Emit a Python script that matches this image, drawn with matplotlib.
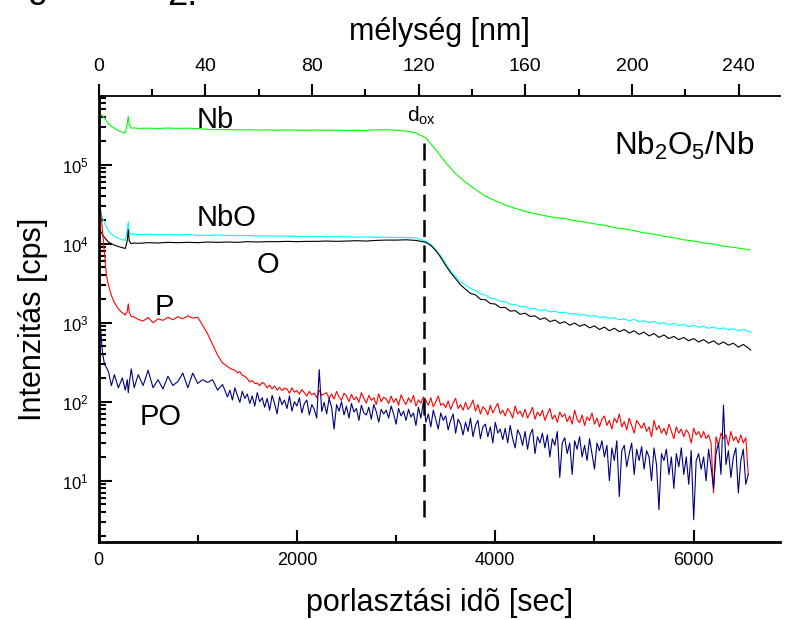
import numpy as np
import matplotlib
matplotlib.use("Agg")
import matplotlib.pyplot as plt
from matplotlib.ticker import FixedLocator

plt.rcParams['font.family'] = ['Liberation Sans', 'DejaVu Sans']
plt.rcParams['mathtext.fontset'] = 'custom'
plt.rcParams['mathtext.rm'] = 'Liberation Sans'
plt.rcParams['mathtext.it'] = 'Liberation Sans:italic'
plt.rcParams['mathtext.bf'] = 'Liberation Sans:bold'
plt.rcParams['mathtext.default'] = 'regular'

# sputtering time grids [s]
t_early = [0, 20, 40, 60, 80, 100, 130, 160, 200, 240, 270, 290, 300, 310, 330, 360, 400]
t_nb = np.array(t_early + list(range(500, 6501, 100)) + [6570])
t_ox = np.array(t_early + list(range(500, 3301, 100)) + list(range(3350, 6551, 50)) + [6575])
t_p = np.array(t_early + list(range(450, 1251, 50)) + list(range(1300, 6551, 25)))

# sputter rate [nm/s] and oxide/metal interface time [s]
sputter_rate = 240 / 6453
d_ox_time = 3283

# axis ticks
time_ticks = [0, 2000, 4000, 6000]
time_minor = [1000, 3000, 5000]
depth_ticks = [0, 40, 80, 120, 160, 200, 240]
depth_minor = [20, 60, 100, 140, 180, 220]

# intensities [cps]
nb = [4.4e5, 4.35e5, 4.15e5, 3.9e5, 3.6e5, 3.3e5, 3.05e5, 2.9e5, 2.7e5, 2.58e5, 2.52e5, 3.3e5, 4.1e5, 3.2e5, 2.9e5, 2.92e5, 2.88e5,
      2.90e5, 2.87e5, 2.91e5, 2.88e5, 2.90e5, 2.86e5, 2.80e5, 2.78e5, 2.79e5, 2.75e5,
      2.77e5, 2.74e5, 2.76e5, 2.73e5, 2.75e5, 2.74e5, 2.72e5, 2.75e5, 2.72e5, 2.74e5,
      2.71e5, 2.73e5, 2.71e5, 2.76e5, 2.77e5, 2.73e5, 2.66e5, 2.52e5, 2.18e5, 1.55e5,
      1.06e5, 7.7e4, 6.0e4, 4.85e4, 4.0e4, 3.5e4, 3.08e4, 2.8e4, 2.57e4, 2.4e4,
      2.26e4, 2.14e4, 2.08e4, 1.95e4, 1.88e4, 1.78e4, 1.71e4, 1.60e4, 1.54e4, 1.46e4,
      1.37e4, 1.32e4, 1.24e4, 1.19e4, 1.12e4, 1.08e4, 1.02e4, 9.9e3, 9.3e3, 9.0e3,
      8.6e3, 8.3e3]

nbo = [2.9e4, 2.5e4, 2.15e4, 1.85e4, 1.62e4, 1.46e4, 1.33e4, 1.24e4, 1.17e4, 1.12e4, 1.1e4, 1.45e4, 1.9e4, 1.38e4, 1.3e4, 1.33e4, 1.3e4,
       1.32e4, 1.30e4, 1.31e4, 1.29e4, 1.31e4, 1.28e4, 1.27e4, 1.29e4, 1.27e4, 1.26e4,
       1.27e4, 1.25e4, 1.26e4, 1.24e4, 1.25e4, 1.24e4, 1.23e4, 1.24e4, 1.22e4, 1.23e4,
       1.22e4, 1.21e4, 1.22e4, 1.20e4, 1.21e4, 1.20e4, 1.20e4, 1.18e4, 1.07e4,
       9.8e3, 8.4e3, 7.0e3, 5.6e3, 4.5e3, 3.85e3, 3.3e3, 3.0e3, 2.72e3, 2.55e3,
       2.32e3, 2.25e3, 2.05e3, 2.0e3, 1.86e3, 1.85e3, 1.71e3, 1.7e3, 1.6e3, 1.6e3,
       1.5e3, 1.51e3, 1.42e3, 1.46e3, 1.37e3, 1.4e3, 1.33e3, 1.36e3, 1.28e3, 1.31e3,
       1.24e3, 1.27e3, 1.2e3, 1.23e3, 1.16e3, 1.19e3, 1.13e3, 1.16e3, 1.09e3, 1.12e3,
       1.06e3, 1.1e3, 1.03e3, 1.06e3, 1.0e3, 1.04e3, 9.7e2, 1.0e3, 9.4e2, 9.8e2,
       9.2e2, 9.5e2, 8.9e2, 9.3e2, 8.7e2, 9.0e2, 8.5e2, 8.8e2, 8.3e2, 8.6e2,
       8.1e2, 8.4e2, 7.9e2, 8.2e2, 7.8e2, 7.5e2]

o = [1.64e4, 1.45e4, 1.3e4, 1.2e4, 1.12e4, 1.05e4, 1.0e4, 9.6e3, 9.2e3, 8.9e3, 8.7e3, 1.1e4, 1.5e4, 1.08e4, 1.0e4, 1.02e4, 1.01e4,
     1.03e4, 1.02e4, 1.04e4, 1.03e4, 1.04e4, 1.03e4, 1.05e4, 1.04e4, 1.05e4, 1.04e4,
     1.06e4, 1.05e4, 1.06e4, 1.06e4, 1.07e4, 1.06e4, 1.07e4, 1.07e4, 1.08e4, 1.07e4,
     1.08e4, 1.09e4, 1.08e4, 1.10e4, 1.11e4, 1.11e4, 1.12e4, 1.10e4, 1.04e4,
     9.5e3, 8.2e3, 6.7e3, 5.3e3, 4.3e3, 3.6e3, 3.0e3, 2.65e3, 2.35e3, 2.25e3,
     1.98e3, 1.95e3, 1.75e3, 1.72e3, 1.55e3, 1.56e3, 1.4e3, 1.42e3, 1.28e3, 1.32e3,
     1.2e3, 1.22e3, 1.1e3, 1.15e3, 1.03e3, 1.08e3, 9.8e2, 1.03e3, 9.3e2, 9.9e2,
     9.0e2, 9.5e2, 8.6e2, 9.1e2, 8.2e2, 8.8e2, 7.9e2, 8.5e2, 7.7e2, 8.2e2,
     7.4e2, 7.9e2, 7.1e2, 7.6e2, 6.8e2, 7.3e2, 6.5e2, 7.0e2, 6.3e2, 6.7e2,
     6.1e2, 6.5e2, 5.9e2, 6.3e2, 5.7e2, 6.1e2, 5.5e2, 5.9e2, 5.3e2, 5.7e2,
     5.2e2, 5.5e2, 4.9e2, 5.3e2, 4.8e2, 4.5e2]

p = [5.5e4, 2.8e4, 1.4e4, 7.5e3, 4.0e3, 3.0e3, 2.2e3, 1.8e3, 1.5e3, 1.33e3, 1.25e3, 1.4e3, 1.73e3, 1.35e3, 1.2e3, 1.18e3, 1.1e3,
     1.05e3, 1.16e3, 1.0e3, 1.12e3, 1.07e3, 1.17e3, 1.09e3, 1.19e3, 1.12e3, 1.22e3,
     1.14e3, 1.17e3, 9.3e2, 7.2e2, 5.3e2, 3.9e2, 3.1e2,
     280, 265, 255, 250, 232, 240, 215, 210,
     195, 178, 185, 170, 172, 160, 175, 168,
     150, 162, 145, 158, 140, 152, 138, 148,
     145, 128, 150, 132, 138, 125, 142, 130,
     118, 135, 122, 128, 112, 140, 120, 126,
     130, 110, 125, 108, 135, 115, 104, 128,
     118, 100, 124, 106, 115, 98, 130, 110,
     96, 120, 104, 112, 92, 126, 100, 114,
     108, 95, 118, 98, 110, 90, 122, 104,
     92, 112, 98, 120, 88, 105, 96, 115,
     104, 90, 112, 86, 100, 118, 90, 95,
     84, 102, 80, 96, 110, 82, 92, 78,
     98, 80, 88, 105, 76, 92, 70, 86,
     80, 68, 90, 72, 84, 95, 70, 78,
     66, 82, 74, 62, 88, 70, 76, 64,
     80, 62, 72, 85, 60, 74, 66, 78,
     58, 70, 82, 60, 68, 55, 74, 64,
     70, 56, 66, 52, 78, 60, 54, 68,
     50, 64, 58, 72, 52, 62, 48, 60,
     66, 50, 58, 45, 62, 54, 70, 48,
     56, 44, 62, 50, 40, 58, 52, 46,
     54, 42, 48, 36, 58, 44, 50, 40,
     46, 38, 52, 42, 34, 48, 40, 45,
     36, 44, 40, 30, 46, 38, 42, 35,
     42, 34, 38, 30, 7, 36, 28, 40,
     34, 38, 28, 42, 32, 36, 30, 38,
     30, 35, 12]

po = [2.1e3, 9.0e2, 4.2e2, 3.0e2, 2.7e2, 2.4e2, 1.6e2, 2.2e2, 1.5e2, 2.0e2, 1.4e2, 1.9e2, 1.3e2, 1.7e2, 2.6e2, 1.5e2, 2.2e2,
      1.6e2, 2.5e2, 1.5e2, 1.9e2, 1.45e2, 2.1e2, 1.6e2, 1.8e2, 2.3e2, 1.5e2,
      2.3e2, 1.7e2, 1.9e2, 1.75e2, 1.9e2, 1.4e2, 1.65e2,
      115, 140, 105, 150, 120, 98, 135, 110,
      125, 95, 118, 88, 130, 100, 112, 85,
      110, 78, 120, 95, 70, 115, 92, 105,
      82, 118, 76, 100, 88, 112, 72, 95,
      105, 68, 92, 80, 62, 255, 75, 98,
      70, 110, 85, 45, 92, 76, 100, 68,
      88, 62, 95, 74, 82, 58, 90, 72,
      68, 85, 60, 92, 75, 55, 80, 70,
      78, 62, 88, 70, 52, 82, 66, 76,
      58, 80, 64, 72, 50, 85, 62, 100,
      55, 70, 48, 78, 60, 45, 72, 58,
      66, 44, 58, 70, 40, 60, 52, 38,
      55, 42, 62, 36, 50, 58, 34, 48,
      52, 36, 48, 30, 55, 40, 45, 33,
      46, 30, 50, 34, 26, 44, 38, 28,
      42, 25, 38, 45, 22, 36, 30, 40,
      26, 38, 20, 34, 28, 42, 11, 30,
      35, 22, 30, 12, 32, 25, 36, 20,
      28, 18, 34, 22, 14, 30, 24, 32,
      20, 28, 10, 26, 18, 32, 6.3, 24,
      28, 15, 22, 30, 12, 25, 18, 27,
      14, 24, 20, 10, 26, 16, 4.3, 22,
      18, 25, 12, 20, 8, 22, 15, 26,
      12, 20, 9, 24, 3.2, 18, 22, 14,
      20, 10, 25, 15, 8, 22, 30, 12,
      90, 16, 24, 11, 20, 26, 7, 18,
      25, 9, 12]

fig = plt.figure(figsize=(7.89, 6.2), dpi=100)
ax = fig.add_axes([98.5 / 789, 1 - 542 / 620, (780 - 98.5) / 789, (542 - 96) / 620])
ax.set_yscale('log')

lw = 0.8
ax.plot(t_nb, nb, color='#00ff00', lw=lw)
ax.plot(t_ox, nbo, color='#00ffff', lw=lw)
ax.plot(t_ox, o, color='black', lw=lw)
ax.plot(t_p, p, color='#ff0000', lw=lw)
ax.plot(t_p, po, color='#000080', lw=lw)

# oxide thickness marker
ax.plot([d_ox_time, d_ox_time], [3.5, 2.27e5], color='black', lw=1.8, dashes=(6.8, 3.4))
ax.text(d_ox_time - 175, 3.46e5, r'd$_{ox}$', fontsize=15, ha='left', va='baseline')

ax.set_xlim(0, 6870)
ax.set_ylim(1.675, 7.4e5)

for side in ('left', 'bottom'):
    ax.spines[side].set_linewidth(2)
ax.spines['right'].set_visible(False)
ax.spines['top'].set_visible(False)

ax.xaxis.set_major_locator(FixedLocator(time_ticks))
ax.xaxis.set_minor_locator(FixedLocator(time_minor))
ax.tick_params(axis='x', which='both', direction='in', top=False, width=1.5, labelsize=13, pad=7)
ax.tick_params(axis='x', which='major', length=9)
ax.tick_params(axis='x', which='minor', length=5)
ax.tick_params(axis='y', which='both', direction='in', right=False, width=1.5, labelsize=12, pad=7)
ax.tick_params(axis='y', which='major', length=9)
ax.tick_params(axis='y', which='minor', length=5)

sec = ax.secondary_xaxis('top', functions=(lambda t: t * sputter_rate, lambda d: d / sputter_rate))
sec.xaxis.set_major_locator(FixedLocator(depth_ticks))
sec.xaxis.set_minor_locator(FixedLocator(depth_minor))
sec.spines['top'].set_linewidth(1.3)
sec.tick_params(which='both', direction='out', width=1.5, labelsize=14, pad=6)
sec.tick_params(which='major', length=9)
sec.tick_params(which='minor', length=5)
sec.set_xlabel('mélység [nm]', fontsize=22, labelpad=13)

ax.set_xlabel('porlasztási idõ [sec]', fontsize=22, labelpad=14)
ax.set_ylabel('Intenzitás [cps]', fontsize=22, labelpad=10)

# species labels
label_kw = dict(fontsize=21, ha='left', va='baseline')
ax.text(989, 2.92e5, 'Nb', **label_kw)
ax.text(993, 1.68e4, 'NbO', **label_kw)
ax.text(1597, 4.2e3, 'O', **label_kw)
ax.text(569, 1.25e3, 'P', **label_kw)
ax.text(418, 50.7, 'PO', **label_kw)
ax.text(0.962, 0.868, r'Nb$_2$O$_5$/Nb', transform=ax.transAxes, fontsize=22.5, ha='right', va='baseline')

# caption line above the figure
fig.text(-2 / 789, 1 + 2.5 / 620, 'Fig', fontsize=26, ha='left', va='baseline')
fig.text(167 / 789, 1 - 5 / 620, '2.', fontsize=26, ha='left', va='baseline')

fig.savefig('out.png', dpi=100)
